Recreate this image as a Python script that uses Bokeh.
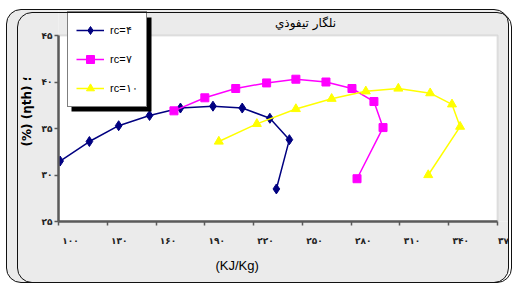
import math
from bokeh.plotting import figure
from bokeh.models import (BoxAnnotation, Label, Legend, LegendItem, Title,
                          FixedTicker, Range1d, LinearAxis,
                          CustomJSTickFormatter, InlineStyleSheet)
from bokeh.embed import file_html
from bokeh.resources import INLINE

# ---- data ----
energy_rc4 = [101, 119, 137, 156, 175, 195, 213, 230, 242, 234]
eff_rc4 = [31.5, 33.6, 35.3, 36.4, 37.2, 37.4, 37.2, 36.1, 33.8, 28.5]
energy_rc7 = [171, 190, 209, 228, 246, 264.5, 280.5, 294, 299.6, 283.6]
eff_rc7 = [36.9, 38.3, 39.3, 39.9, 40.3, 40.0, 39.3, 37.9, 35.1, 29.6]
energy_rc10 = [198.6, 222, 246, 268, 289, 309, 328.6, 342, 347, 327.4]
eff_rc10 = [33.6, 35.5, 37.1, 38.2, 39.0, 39.3, 38.8, 37.6, 35.2, 30.0]
series_labels = ["rc=۴", "rc=۷", "rc=۱۰"]
x_ticks = [100, 130, 160, 190, 220, 250, 280, 310, 340, 370]
x_tick_labels = ["۱۰۰", "۱۳۰", "۱۶۰", "۱۹۰", "۲۲۰", "۲۵۰", "۲۸۰", "۳۱۰", "۳۴۰", "۳۷۰"]
y_ticks = [25, 30, 35, 40, 45]
y_tick_labels = ["۲۵", "۳۰", "۳۵", "۴۰", "۴۵"]
title_text = "نلگار تيفوذي"
x_title = "(KJ/Kg)"
y_title = "(%) (ηth) ؛"

W, H = 514, 284
# layout: plot area from page x 58..497 (100..370), y 35..221 (45..25)
FL, FB = 58, 221
px_x = (497 - 58) / (370 - 100)
px_y = (221 - 35) / (45 - 25)
x_end = 370 + (W - 497) / px_x
y_end = 25 + FB / px_y

css = """
:host { position: relative; }
:host::before, :host::after {
  content: ""; position: absolute; box-sizing: border-box;
  pointer-events: none; z-index: 100;
  border: 1.5px solid #111; border-radius: 15px;
}
:host::before { left: 6px; top: 9px; width: 503px; height: 274px;
  box-shadow: 0 0 0 40px white; }
:host::after { left: 17px; top: 12px; width: 495px; height: 271px; }
"""

p = figure(width=W, height=H, output_backend="svg", toolbar_location=None,
           x_range=Range1d(100, x_end), y_range=Range1d(25, y_end),
           min_border_left=FL, min_border_right=0, min_border_top=0,
           min_border_bottom=H - FB)
p.stylesheets = [InlineStyleSheet(css=css)]
p.border_fill_color = "#ebebeb"
p.background_fill_color = "#ebebeb"
p.outline_line_color = None
p.grid.visible = False

# white plot area with grey top/right border
plotbg = BoxAnnotation(left=100, right=370, top=45, bottom=25,
                       fill_color="white", fill_alpha=1,
                       line_color="#a6a6a6", line_width=2, level="underlay")
p.add_layout(plotbg)

# axes
for ax in (p.xaxis[0], p.yaxis[0]):
    ax.axis_line_color = "#5a5a5a"
    ax.axis_line_width = 2.5
    ax.major_tick_line_color = "#5a5a5a"
    ax.major_tick_line_width = 1.5
    ax.minor_tick_line_color = None
    ax.major_tick_in = 0
    ax.major_tick_out = 4

p.xaxis[0].bounds = (100, 370)
p.xaxis[0].ticker = FixedTicker(ticks=x_ticks)
p.xaxis[0].major_label_text_color = None
p.xaxis[0].major_label_text_font_size = "1px"
p.xaxis[0].major_label_standoff = 0

p.yaxis[0].bounds = (25, 45)
p.yaxis.ticker = FixedTicker(ticks=y_ticks)
p.yaxis.major_label_overrides = {t: l for t, l in zip(y_ticks, y_tick_labels)}
p.yaxis.major_label_text_font = "DejaVu Sans"
p.yaxis.major_label_text_font_size = "9px"
p.yaxis.major_label_text_font_style = "bold"
p.yaxis.major_label_text_color = "#222222"
p.yaxis.major_label_standoff = 2

# tick labels sit a little to the right of their ticks
shift = 12 / px_x
label_axis = LinearAxis(ticker=FixedTicker(ticks=[t + shift for t in x_ticks]),
                        formatter=CustomJSTickFormatter(
                            args=dict(labels=x_tick_labels),
                            code="return labels[index]"),
                        axis_line_color=None, major_tick_line_color=None,
                        minor_tick_line_color=None, major_label_standoff=4,
                        major_label_text_font="DejaVu Sans",
                        major_label_text_font_size="9px",
                        major_label_text_font_style="bold",
                        major_label_text_color="#222222")
p.add_layout(label_axis, "below")

# series
r1 = p.line(energy_rc4, eff_rc4, line_color="#000080", line_width=1.5)
m1 = p.scatter(energy_rc4, eff_rc4, marker="diamond", size=10, color="#000080")
r2 = p.line(energy_rc7, eff_rc7, line_color="#ff00ff", line_width=1.5)
m2 = p.scatter(energy_rc7, eff_rc7, marker="square", size=8, color="#ff00ff")
r3 = p.line(energy_rc10, eff_rc10, line_color="#ffff00", line_width=1.5)
m3 = p.scatter(energy_rc10, eff_rc10, marker="triangle", size=9, color="#ffff00")

# legend shadow (screen units relative to the frame's bottom-left)
shadow = BoxAnnotation(left=71 - FL, right=151 - FL, top=FB - 17, bottom=FB - 111,
                       left_units="screen", right_units="screen",
                       top_units="screen", bottom_units="screen",
                       fill_color="black", fill_alpha=1, line_color=None)
p.add_layout(shadow)

legend = Legend(items=[LegendItem(label=series_labels[0], renderers=[r1, m1]),
                       LegendItem(label=series_labels[1], renderers=[r2, m2]),
                       LegendItem(label=series_labels[2], renderers=[r3, m3])],
                location=(67 - FL, FB - 107), glyph_width=28, glyph_height=20,
                label_standoff=6, spacing=9, padding=8, margin=0,
                border_line_color="black", border_line_width=1,
                background_fill_color="white", background_fill_alpha=1,
                label_text_font="Liberation Sans", label_text_font_size="11px",
                label_text_color="black")
p.add_layout(legend, "center")

# title inside the grey band above the plot area
p.add_layout(Label(x=305 - FL, y=FB - 22, x_units="screen", y_units="screen",
                   text=title_text, text_align="center", text_baseline="middle",
                   text_font="DejaVu Sans", text_font_size="12px",
                   text_color="black"))

# axis titles
p.add_layout(Title(text=x_title, align="left", offset=215 - FL, standoff=14,
                   text_font="Liberation Sans", text_font_size="13px",
                   text_font_style="normal", text_color="black"), "below")
p.add_layout(Title(text=y_title, align="left", offset=FB - 146,
                   text_font="DejaVu Sans", text_font_size="12px",
                   text_font_style="bold", text_color="black"), "left")

open("out.html", "w").write(file_html(p, INLINE))
